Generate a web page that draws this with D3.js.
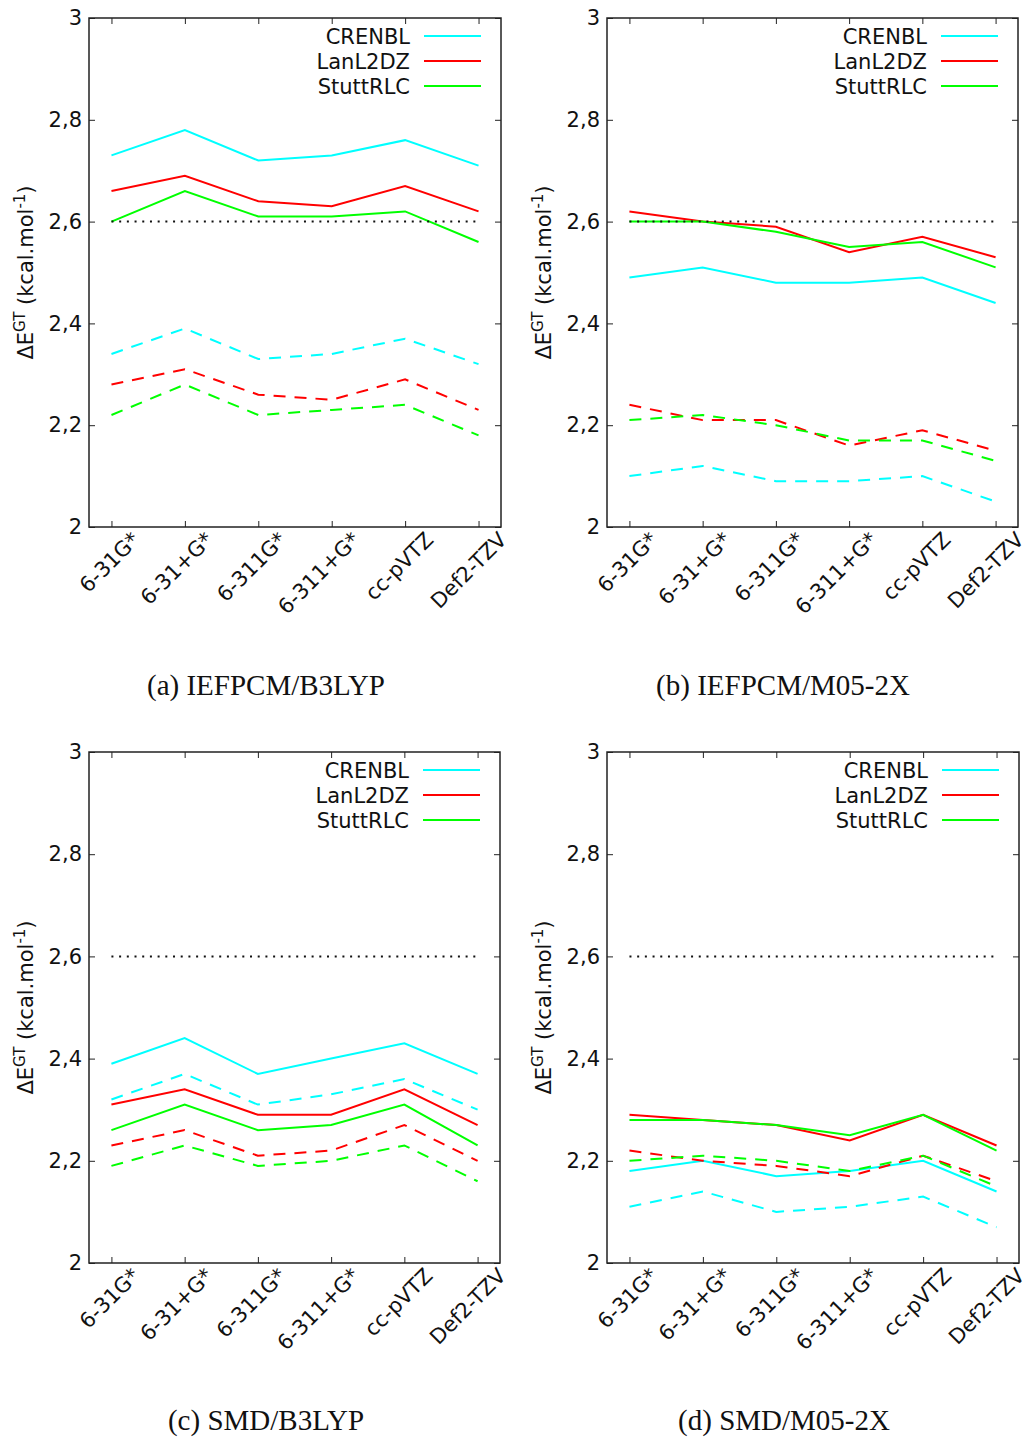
<!DOCTYPE html>
<html>
<head>
<meta charset="utf-8">
<script src="https://cdn.jsdelivr.net/npm/d3@7"></script>
<style>
  body { margin: 0; background: #fff; }
  svg { display: block; }
</style>
</head>
<body>
<div id="chart"></div>
<script>
const basisSets = ["6-31G*", "6-31+G*", "6-311G*", "6-311+G*", "cc-pVTZ", "Def2-TZV"];
const ecpNames = ["CRENBL", "LanL2DZ", "StuttRLC"];
const yTicks = [2, 2.2, 2.4, 2.6, 2.8, 3];
const yTickLabels = ["2", "2,2", "2,4", "2,6", "2,8", "3"];
const refValue = 2.6;

// rows follow ecpNames order: CRENBL, LanL2DZ, StuttRLC
const iefpcmB3lypSolid = [
    [2.73, 2.78, 2.72, 2.73, 2.76, 2.71],
    [2.66, 2.69, 2.64, 2.63, 2.67, 2.62],
    [2.60, 2.66, 2.61, 2.61, 2.62, 2.56]
];
const iefpcmB3lypDashed = [
    [2.34, 2.39, 2.33, 2.34, 2.37, 2.32],
    [2.28, 2.31, 2.26, 2.25, 2.29, 2.23],
    [2.22, 2.28, 2.22, 2.23, 2.24, 2.18]
];
const iefpcmM052xSolid = [
    [2.49, 2.51, 2.48, 2.48, 2.49, 2.44],
    [2.62, 2.60, 2.59, 2.54, 2.57, 2.53],
    [2.60, 2.60, 2.58, 2.55, 2.56, 2.51]
];
const iefpcmM052xDashed = [
    [2.10, 2.12, 2.09, 2.09, 2.10, 2.05],
    [2.24, 2.21, 2.21, 2.16, 2.19, 2.15],
    [2.21, 2.22, 2.20, 2.17, 2.17, 2.13]
];
const smdB3lypSolid = [
    [2.39, 2.44, 2.37, 2.40, 2.43, 2.37],
    [2.31, 2.34, 2.29, 2.29, 2.34, 2.27],
    [2.26, 2.31, 2.26, 2.27, 2.31, 2.23]
];
const smdB3lypDashed = [
    [2.32, 2.37, 2.31, 2.33, 2.36, 2.30],
    [2.23, 2.26, 2.21, 2.22, 2.27, 2.20],
    [2.19, 2.23, 2.19, 2.20, 2.23, 2.16]
];
const smdM052xSolid = [
    [2.18, 2.20, 2.17, 2.18, 2.20, 2.14],
    [2.29, 2.28, 2.27, 2.24, 2.29, 2.23],
    [2.28, 2.28, 2.27, 2.25, 2.29, 2.22]
];
const smdM052xDashed = [
    [2.11, 2.14, 2.10, 2.11, 2.13, 2.07],
    [2.22, 2.20, 2.19, 2.17, 2.21, 2.16],
    [2.20, 2.21, 2.20, 2.18, 2.21, 2.15]
];

const seriesColors = ["#00ffff", "#ff0000", "#00ff00"];
const sansFont = "'DejaVu Sans', sans-serif";

const panels = [
    { box: { left: 89, right: 501, top: 18, bottom: 527 }, solid: iefpcmB3lypSolid, dashed: iefpcmB3lypDashed,
      caption: "(a) IEFPCM/B3LYP", capX: 266, capY: 695 },
    { box: { left: 607, right: 1018, top: 18, bottom: 527 }, solid: iefpcmM052xSolid, dashed: iefpcmM052xDashed,
      caption: "(b) IEFPCM/M05-2X", capX: 783, capY: 695 },
    { box: { left: 89, right: 500, top: 752, bottom: 1263 }, solid: smdB3lypSolid, dashed: smdB3lypDashed,
      caption: "(c) SMD/B3LYP", capX: 266, capY: 1430 },
    { box: { left: 607, right: 1019, top: 752, bottom: 1263 }, solid: smdM052xSolid, dashed: smdM052xDashed,
      caption: "(d) SMD/M05-2X", capX: 784, capY: 1430 }
];

const svg = d3.select("#chart").append("svg")
    .attr("width", 1026)
    .attr("height", 1437)
    .style("background", "#fff");

function renderPanel(p) {
    const box = p.box;
    const x = d3.scalePoint().domain(basisSets).range([box.left, box.right]).padding(0.306);
    const y = d3.scaleLinear().domain([2, 3]).range([box.bottom, box.top]);

    const g = svg.append("g").style("color", "#222");

    // left axis with labels, ticks pointing inwards
    g.append("g")
        .attr("transform", `translate(${box.left},0)`)
        .call(d3.axisLeft(y).tickValues(yTicks)
            .tickFormat(d => yTickLabels[yTicks.indexOf(d)])
            .tickSizeInner(-6).tickSizeOuter(0).tickPadding(7))
        .call(a => a.select(".domain").remove())
        .selectAll("text")
        .attr("font-size", 21)
        .attr("font-family", sansFont)
        .attr("fill", "#111");

    // mirrored right axis
    g.append("g")
        .attr("transform", `translate(${box.right},0)`)
        .call(d3.axisRight(y).tickValues(yTicks).tickFormat("")
            .tickSizeInner(-6).tickSizeOuter(0))
        .call(a => a.select(".domain").remove());

    // mirrored top axis
    g.append("g")
        .attr("transform", `translate(0,${box.top})`)
        .call(d3.axisTop(x).tickFormat("").tickSizeInner(-6).tickSizeOuter(0))
        .call(a => a.select(".domain").remove());

    // bottom axis, rotated labels
    g.append("g")
        .attr("transform", `translate(0,${box.bottom})`)
        .call(d3.axisBottom(x).tickSizeInner(-6).tickSizeOuter(0).tickPadding(0))
        .call(a => a.select(".domain").remove())
        .selectAll("text")
        .attr("x", 0)
        .attr("y", 0)
        .attr("dy", "0")
        .attr("text-anchor", "end")
        .attr("transform", "translate(29,14) rotate(-45)")
        .attr("font-size", 21)
        .attr("font-family", sansFont)
        .attr("fill", "#111");

    // frame
    g.append("rect")
        .attr("x", box.left)
        .attr("y", box.top)
        .attr("width", box.right - box.left)
        .attr("height", box.bottom - box.top)
        .attr("fill", "none")
        .attr("stroke", "#222")
        .attr("stroke-width", 1.5);

    const line = d3.line()
        .x((d, i) => x(basisSets[i]))
        .y(d => y(d));

    const lines = g.append("g").attr("fill", "none").attr("stroke-width", 2);

    p.solid.forEach((vals, k) => {
        lines.append("path")
            .attr("d", line(vals))
            .attr("stroke", seriesColors[k]);
    });
    p.dashed.forEach((vals, k) => {
        lines.append("path")
            .attr("d", line(vals))
            .attr("stroke", seriesColors[k])
            .attr("stroke-dasharray", "12 9");
    });

    // reference level (dotted)
    g.append("line")
        .attr("x1", x(basisSets[0]))
        .attr("x2", x(basisSets[basisSets.length - 1]))
        .attr("y1", y(refValue))
        .attr("y2", y(refValue))
        .attr("stroke", "#111")
        .attr("stroke-width", 2)
        .attr("stroke-dasharray", "2 5.7");

    // legend
    const legend = g.append("g");
    ecpNames.forEach((name, k) => {
        const ly = box.top + 18 + k * 25;
        legend.append("text")
            .attr("x", box.right - 91)
            .attr("y", ly)
            .attr("dy", "0.36em")
            .attr("text-anchor", "end")
            .attr("font-size", 21)
            .attr("font-family", sansFont)
            .attr("fill", "#111")
            .text(name);
        legend.append("line")
            .attr("x1", box.right - 77)
            .attr("x2", box.right - 20)
            .attr("y1", ly)
            .attr("y2", ly)
            .attr("stroke", seriesColors[k])
            .attr("stroke-width", 2);
    });

    // y axis title
    const yl = g.append("text")
        .attr("transform", `translate(${box.left - 56},${(box.top + box.bottom) / 2}) rotate(-90)`)
        .attr("text-anchor", "middle")
        .attr("font-size", 21)
        .attr("font-family", sansFont)
        .attr("fill", "#111");
    yl.append("tspan").text("\u0394E");
    yl.append("tspan").attr("font-size", 15).attr("dy", -8).text("GT");
    yl.append("tspan").attr("dy", 8).text(" (kcal.mol");
    yl.append("tspan").attr("font-size", 15).attr("dy", -8).text("-1");
    yl.append("tspan").attr("dy", 8).text(")");

    // caption
    svg.append("text")
        .attr("x", p.capX)
        .attr("y", p.capY)
        .attr("text-anchor", "middle")
        .attr("font-size", 29)
        .attr("font-family", "'Liberation Serif', serif")
        .attr("fill", "#111")
        .text(p.caption);
}

panels.forEach(renderPanel);
</script>
</body>
</html>
